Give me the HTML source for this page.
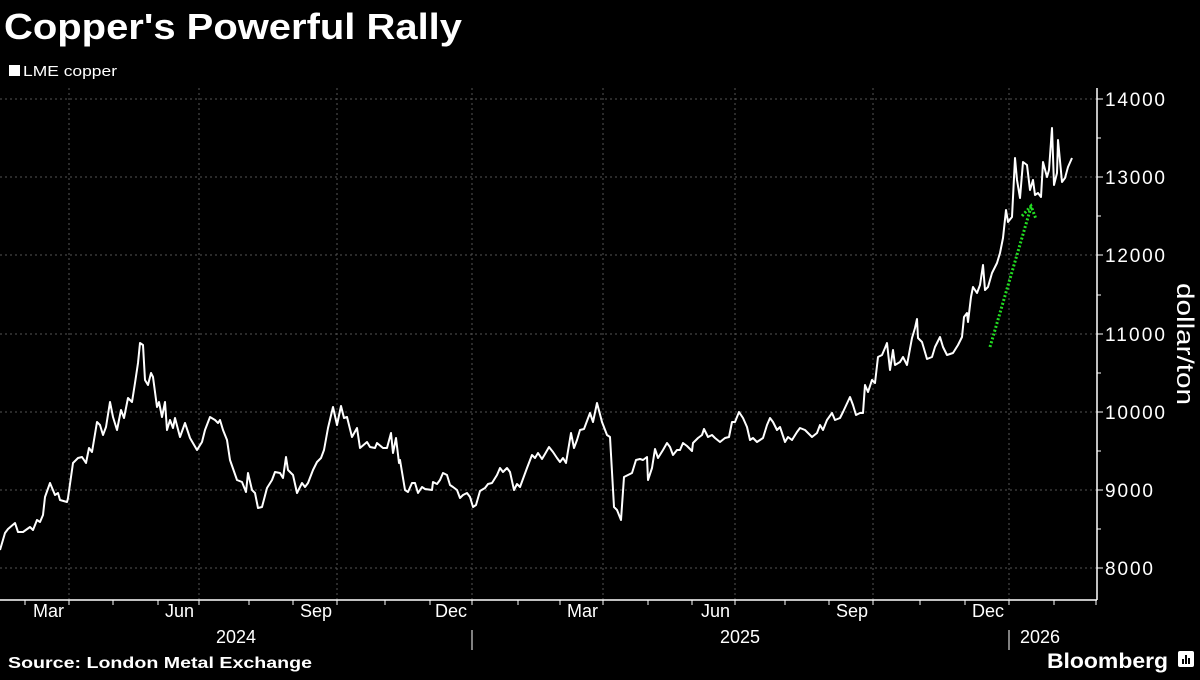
<!DOCTYPE html>
<html><head><meta charset="utf-8"><style>
body{margin:0;background:#000;width:1200px;height:675px;overflow:hidden;font-family:"Liberation Sans",sans-serif;}
</style></head><body>
<svg width="1200" height="675" xmlns="http://www.w3.org/2000/svg" font-family="Liberation Sans, sans-serif">
<rect width="1200" height="675" fill="#000"/>
<text x="4" y="39" fill="#fff" font-size="36" font-weight="bold" textLength="458" lengthAdjust="spacingAndGlyphs">Copper's Powerful Rally</text>
<rect x="9" y="65" width="11" height="11" fill="#fff"/>
<text x="23" y="76" fill="#fff" font-size="15" textLength="94" lengthAdjust="spacingAndGlyphs">LME copper</text>
<g stroke="#555" stroke-width="1" stroke-dasharray="2,3">
<line x1="0" y1="99" x2="1097" y2="99"/><line x1="0" y1="177" x2="1097" y2="177"/><line x1="0" y1="255" x2="1097" y2="255"/><line x1="0" y1="334" x2="1097" y2="334"/><line x1="0" y1="412" x2="1097" y2="412"/><line x1="0" y1="490" x2="1097" y2="490"/><line x1="0" y1="568" x2="1097" y2="568"/>
<line x1="69" y1="88" x2="69" y2="600"/><line x1="199" y1="88" x2="199" y2="600"/><line x1="337" y1="88" x2="337" y2="600"/><line x1="472" y1="88" x2="472" y2="600"/><line x1="603" y1="88" x2="603" y2="600"/><line x1="735" y1="88" x2="735" y2="600"/><line x1="873" y1="88" x2="873" y2="600"/><line x1="1009" y1="88" x2="1009" y2="600"/>
</g>
<g stroke="#fff" stroke-width="1.5">
<line x1="0" y1="600" x2="1097" y2="600"/><line x1="1097" y1="88" x2="1097" y2="600"/>
</g>
<g stroke="#fff" stroke-width="1">
<line x1="25" y1="600" x2="25" y2="605"/><line x1="69" y1="600" x2="69" y2="605"/><line x1="113" y1="600" x2="113" y2="605"/><line x1="158" y1="600" x2="158" y2="605"/><line x1="199" y1="600" x2="199" y2="605"/><line x1="249" y1="600" x2="249" y2="605"/><line x1="293" y1="600" x2="293" y2="605"/><line x1="337" y1="600" x2="337" y2="605"/><line x1="385" y1="600" x2="385" y2="605"/><line x1="430" y1="600" x2="430" y2="605"/><line x1="472" y1="600" x2="472" y2="605"/><line x1="518" y1="600" x2="518" y2="605"/><line x1="560" y1="600" x2="560" y2="605"/><line x1="603" y1="600" x2="603" y2="605"/><line x1="648" y1="600" x2="648" y2="605"/><line x1="692" y1="600" x2="692" y2="605"/><line x1="735" y1="600" x2="735" y2="605"/><line x1="785" y1="600" x2="785" y2="605"/><line x1="829" y1="600" x2="829" y2="605"/><line x1="873" y1="600" x2="873" y2="605"/><line x1="920" y1="600" x2="920" y2="605"/><line x1="965" y1="600" x2="965" y2="605"/><line x1="1009" y1="600" x2="1009" y2="605"/><line x1="1054" y1="600" x2="1054" y2="605"/><line x1="1096" y1="600" x2="1096" y2="605"/>
<line x1="472" y1="630" x2="472" y2="650"/><line x1="1009" y1="630" x2="1009" y2="650"/>
<line x1="1097" y1="99" x2="1103" y2="99"/><line x1="1097" y1="138" x2="1101" y2="138"/><line x1="1097" y1="177" x2="1103" y2="177"/><line x1="1097" y1="216" x2="1101" y2="216"/><line x1="1097" y1="255" x2="1103" y2="255"/><line x1="1097" y1="295" x2="1101" y2="295"/><line x1="1097" y1="334" x2="1103" y2="334"/><line x1="1097" y1="373" x2="1101" y2="373"/><line x1="1097" y1="412" x2="1103" y2="412"/><line x1="1097" y1="451" x2="1101" y2="451"/><line x1="1097" y1="490" x2="1103" y2="490"/><line x1="1097" y1="529" x2="1101" y2="529"/><line x1="1097" y1="568" x2="1103" y2="568"/>
</g>
<g fill="#fff" font-size="19" lengthAdjust="spacingAndGlyphs">
<text x="1105" y="106" textLength="60">14000</text><text x="1105" y="184" textLength="60">13000</text><text x="1105" y="262" textLength="60">12000</text><text x="1105" y="341" textLength="60">11000</text><text x="1105" y="419" textLength="60">10000</text><text x="1105" y="497" textLength="48">9000</text><text x="1105" y="575" textLength="48">8000</text>
</g>
<text transform="translate(1177,344) rotate(90)" fill="#fff" font-size="24" text-anchor="middle" textLength="122" lengthAdjust="spacingAndGlyphs">dollar/ton</text>
<g fill="#fff" font-size="18" text-anchor="end">
<text x="64" y="617">Mar</text><text x="194" y="617">Jun</text><text x="332" y="617">Sep</text><text x="467" y="617">Dec</text><text x="598" y="617">Mar</text><text x="730" y="617">Jun</text><text x="868" y="617">Sep</text><text x="1004" y="617">Dec</text>
</g>
<g fill="#fff" font-size="18" text-anchor="middle">
<text x="236" y="643">2024</text><text x="740" y="643">2025</text><text x="1040" y="643">2026</text>
</g>
<polyline fill="none" stroke="#fff" stroke-width="2" stroke-linejoin="round" points="0,550 5,533 8,529 15,523 18,532 23,532 30,527 33,530 37,520 40,522 43,515 45,497 50,483 55,495 58,493 60,500 67,502 68,498 73,463 78,458 82,457 86,463 89,448 92,452 97,422 100,425 103,435 106,427 110,402 113,417 117,430 121,410 124,418 128,398 132,402 135,383 138,363 140,343 143,345 145,380 148,385 151,373 153,377 157,407 159,402 162,417 165,402 167,430 170,420 173,428 175,418 180,437 185,423 190,438 197,450 202,442 205,430 210,417 215,420 218,423 220,420 223,430 227,440 230,460 237,480 242,482 246,492 248,473 252,490 255,493 258,508 262,507 267,488 272,480 275,472 280,473 283,478 286,457 288,470 293,475 297,493 302,483 305,487 308,483 313,470 317,462 321,458 324,450 328,428 333,407 337,425 341,406 344,418 347,417 352,437 357,428 360,448 367,442 370,447 375,448 377,443 383,448 387,448 391,433 393,453 396,438 399,463 400,460 405,490 408,492 412,483 415,483 418,493 422,487 425,489 432,490 433,482 437,484 440,480 443,473 447,475 450,485 453,487 457,490 460,498 463,495 467,493 470,497 473,507 476,505 480,491 485,488 488,484 492,483 497,475 500,468 503,472 507,468 510,472 514,490 517,484 520,487 527,468 532,455 535,458 538,453 542,459 545,454 549,447 553,452 557,458 560,462 563,458 566,463 571,433 574,448 577,440 580,430 584,429 590,413 593,422 597,403 602,422 607,435 610,437 614,507 617,510 621,520 624,477 628,475 632,473 636,460 640,459 643,460 647,457 648,480 652,468 655,449 658,458 663,450 667,443 670,447 673,455 677,450 680,450 683,443 687,446 692,451 693,443 698,438 702,435 704,429 708,437 712,435 715,438 720,442 725,438 729,437 732,422 735,422 739,412 743,418 747,427 750,440 753,438 757,442 763,438 767,425 770,418 773,422 777,430 780,427 785,442 788,437 792,440 797,432 800,428 805,430 812,437 817,433 820,425 823,430 827,420 832,413 835,420 840,418 843,412 850,397 853,405 856,415 860,413 863,413 865,385 868,392 872,380 875,383 878,357 882,355 885,348 887,343 890,370 893,350 895,365 900,362 903,357 907,365 912,338 915,328 917,319 918,338 922,342 927,359 932,357 935,347 940,337 943,347 947,355 953,353 958,345 962,337 964,317 967,313 968,322 971,297 973,287 977,293 980,285 983,265 985,290 988,287 992,273 997,263 1000,253 1003,238 1006,210 1008,222 1012,217 1015,158 1017,180 1020,198 1023,162 1027,165 1030,190 1033,180 1035,195 1038,193 1041,197 1043,162 1047,177 1049,170 1052,128 1054,185 1057,173 1058,140 1062,182 1065,178 1068,167 1072,158"/>
<g stroke="#22dd22" stroke-width="3" stroke-dasharray="2,2" fill="none">
<line x1="990" y1="347" x2="1031" y2="207"/>
<polyline points="1022,216 1031,206 1036,219"/>
</g>
<text x="8" y="668" fill="#fff" font-size="16" font-weight="bold" textLength="304" lengthAdjust="spacingAndGlyphs">Source: London Metal Exchange</text>
<text x="1047" y="668" fill="#fff" font-size="21" font-weight="bold" textLength="121" lengthAdjust="spacingAndGlyphs">Bloomberg</text>
<rect x="1178" y="651" width="16" height="16" rx="2" fill="#fff"/>
<g fill="#000"><rect x="1182" y="659" width="2" height="5"/><rect x="1185" y="655" width="2" height="9"/><rect x="1188" y="658" width="2" height="6"/></g>
</svg>
</body></html>
